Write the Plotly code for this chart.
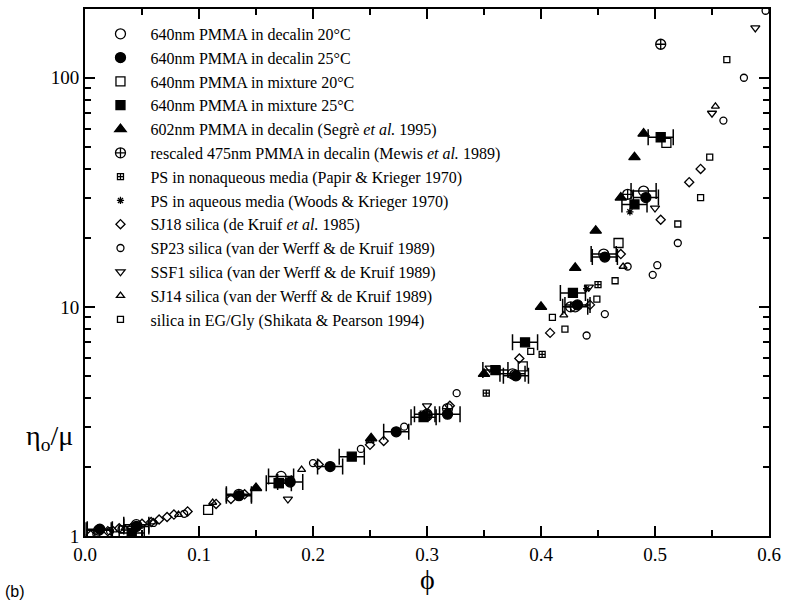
import plotly.graph_objects as go

# Relative zero-shear viscosity eta_0/mu versus volume fraction phi
names = [
    "640nm PMMA in decalin 20°C",
    "640nm PMMA in decalin 25°C",
    "640nm PMMA in mixture 20°C",
    "640nm PMMA in mixture 25°C",
    "602nm PMMA in decalin (Segrè <i>et al.</i> 1995)",
    "rescaled 475nm PMMA in decalin (Mewis <i>et al.</i> 1989)",
    "PS in nonaqueous media (Papir &amp; Krieger 1970)",
    "PS in aqueous media (Woods &amp; Krieger 1970)",
    "SJ18 silica (de Kruif <i>et al.</i> 1985)",
    "SP23 silica (van der Werff &amp; de Kruif 1989)",
    "SSF1 silica (van der Werff &amp; de Kruif 1989)",
    "SJ14 silica (van der Werff &amp; de Kruif 1989)",
    "silica in EG/Gly (Shikata &amp; Pearson 1994)",
]

decalin20_phi = [0.012, 0.045, 0.135, 0.172, 0.30, 0.375, 0.43, 0.455, 0.49]
decalin20_eta = [1.06, 1.12, 1.52, 1.82, 3.4, 5.1, 10.0, 17.0, 32.0]

decalin25_phi = [0.013, 0.045, 0.135, 0.18, 0.215, 0.273, 0.318, 0.378, 0.432, 0.456, 0.492]
decalin25_eta = [1.07, 1.10, 1.50, 1.72, 2.01, 2.85, 3.4, 5.0, 10.2, 16.5, 30.0]

mixture20_phi = [0.108, 0.17, 0.298, 0.384, 0.468, 0.51]
mixture20_eta = [1.30, 1.70, 3.35, 5.5, 19.0, 52.0]

mixture25_phi = [0.041, 0.17, 0.234, 0.297, 0.36, 0.386, 0.428, 0.482, 0.505]
mixture25_eta = [1.03, 1.70, 2.22, 3.3, 5.3, 7.0, 11.5, 28.0, 55.0]

segre_phi = [0.15, 0.251, 0.35, 0.40, 0.43, 0.448, 0.47, 0.482, 0.49]
segre_eta = [1.62, 2.67, 5.1, 10.0, 14.8, 21.5, 30.0, 45.0, 57.0]

mewis_phi = [0.30, 0.318, 0.377, 0.426, 0.476, 0.505]
mewis_eta = [3.35, 3.6, 5.05, 10.0, 31.0, 140.0]

ps_nonaq_phi = [0.352, 0.401, 0.45]
ps_nonaq_eta = [4.2, 6.2, 12.5]

ps_aq_phi = [0.44, 0.478]
ps_aq_eta = [12.0, 26.0]

sj18_phi = [0.005, 0.02, 0.03, 0.05, 0.058, 0.065, 0.072, 0.078, 0.09, 0.115, 0.128, 0.14,
            0.205, 0.25, 0.262, 0.32, 0.381, 0.408, 0.443, 0.47, 0.505, 0.53, 0.54]
sj18_eta = [1.01, 1.05, 1.08, 1.13, 1.15, 1.18, 1.21, 1.24, 1.28, 1.38, 1.45, 1.52,
            2.05, 2.5, 2.6, 3.7, 5.95, 7.7, 10.2, 17.0, 24.0, 35.0, 40.0]

sp23_phi = [0.01, 0.022, 0.032, 0.047, 0.06, 0.087, 0.2, 0.242, 0.28, 0.326, 0.44, 0.456,
            0.476, 0.498, 0.502, 0.52, 0.56, 0.578, 0.597]
sp23_eta = [1.02, 1.05, 1.07, 1.11, 1.14, 1.25, 2.08, 2.4, 3.0, 4.2, 7.5, 9.3,
            15.0, 13.8, 15.2, 19.0, 65.0, 100.0, 196.0]

ssf1_phi = [0.178, 0.30, 0.355, 0.442, 0.5, 0.55, 0.588]
ssf1_eta = [1.45, 3.7, 5.4, 12.2, 27.0, 70.0, 165.0]

sj14_phi = [0.025, 0.035, 0.04, 0.06, 0.082, 0.112, 0.19, 0.25, 0.42, 0.472, 0.553]
sj14_eta = [1.06, 1.08, 1.09, 1.15, 1.24, 1.40, 1.95, 2.6, 9.2, 15.0, 75.0]

eggly_phi = [0.04, 0.30, 0.391, 0.41, 0.421, 0.449, 0.465, 0.52, 0.54, 0.548, 0.563]
eggly_eta = [1.04, 3.4, 6.4, 9.0, 8.0, 10.8, 13.0, 23.0, 30.0, 45.0, 120.0]

phi_err = 0.011

series = [
    (decalin20_phi, decalin20_eta, "circle-open", 10, True),
    (decalin25_phi, decalin25_eta, "circle", 10, True),
    (mixture20_phi, mixture20_eta, "square-open", 9, False),
    (mixture25_phi, mixture25_eta, "square", 9, True),
    (segre_phi, segre_eta, "triangle-up", 10, False),
    (mewis_phi, mewis_eta, "circle-cross-open", 10, False),
    (ps_nonaq_phi, ps_nonaq_eta, "square-cross-open", 6, False),
    (ps_aq_phi, ps_aq_eta, "asterisk-open", 6, False),
    (sj18_phi, sj18_eta, "diamond-open", 7, False),
    (sp23_phi, sp23_eta, "circle-open", 7, False),
    (ssf1_phi, ssf1_eta, "triangle-down-open", 8, False),
    (sj14_phi, sj14_eta, "triangle-up-open", 7, False),
    (eggly_phi, eggly_eta, "square-open", 6, False),
]

fig = go.Figure()
for name, (px, py, sym, size, with_err) in zip(names, series):
    tr = go.Scatter(
        x=px, y=py, mode="markers", name=name,
        marker=dict(symbol=sym, size=size, color="black",
                    line=dict(color="black", width=1.3)),
    )
    if with_err:
        tr.error_x = dict(type="constant", value=phi_err, color="black",
                          thickness=1.5, width=8)
    fig.add_trace(tr)

serif = "Liberation Serif, Times New Roman, serif"

fig.update_layout(
    width=788, height=602,
    margin=dict(l=85, r=15, t=7, b=66),
    paper_bgcolor="white", plot_bgcolor="white",
    font=dict(family=serif, size=17, color="black"),
    showlegend=True,
    legend=dict(x=0.008, y=0.985, xanchor="left", yanchor="top",
                bgcolor="rgba(0,0,0,0)", borderwidth=0,
                font=dict(family=serif, size=16, color="black"),
                itemwidth=50, tracegroupgap=0),
    xaxis=dict(range=[0, 0.6], tickvals=[0, 0.1, 0.2, 0.3, 0.4, 0.5, 0.6],
               ticktext=["0.0", "0.1", "0.2", "0.3", "0.4", "0.5", "0.6"],
               ticks="inside", ticklen=10, tickwidth=2, tickcolor="black",
               minor=dict(dtick=0.05, ticks="inside", ticklen=6, tickwidth=1.5,
                          tickcolor="black", showgrid=False),
               showline=True, linecolor="black", linewidth=2, mirror="allticks",
               showgrid=False, zeroline=False,
               tickfont=dict(family=serif, size=19)),
    yaxis=dict(type="log", range=[0, 2.3],
               tickvals=[1, 10, 100], ticktext=["1", "10", "100"],
               ticks="inside", ticklen=10, tickwidth=2, tickcolor="black",
               minor=dict(tickvals=[2, 3, 4, 5, 6, 7, 8, 9, 20, 30, 40, 50, 60, 70, 80, 90, 200],
                          ticks="inside", ticklen=6, tickwidth=1.5,
                          tickcolor="black", showgrid=False),
               showline=True, linecolor="black", linewidth=2, mirror="allticks",
               showgrid=False, zeroline=False,
               tickfont=dict(family=serif, size=19)),
)

fig.add_annotation(text="η<sub>o</sub>/μ", xref="paper", yref="paper",
                   x=-0.014, y=0.187, xanchor="right", yanchor="middle",
                   showarrow=False, font=dict(family=serif, size=28))
fig.add_annotation(text="ϕ", xref="paper", yref="paper",
                   x=0.5, y=-0.05, xanchor="center", yanchor="top",
                   showarrow=False, font=dict(family=serif, size=28))
fig.add_annotation(text="(b)", xref="paper", yref="paper",
                   x=-0.12, y=-0.085, xanchor="left", yanchor="top",
                   showarrow=False, font=dict(family="Liberation Sans, Arial", size=16))

fig.write_html("out.html")
